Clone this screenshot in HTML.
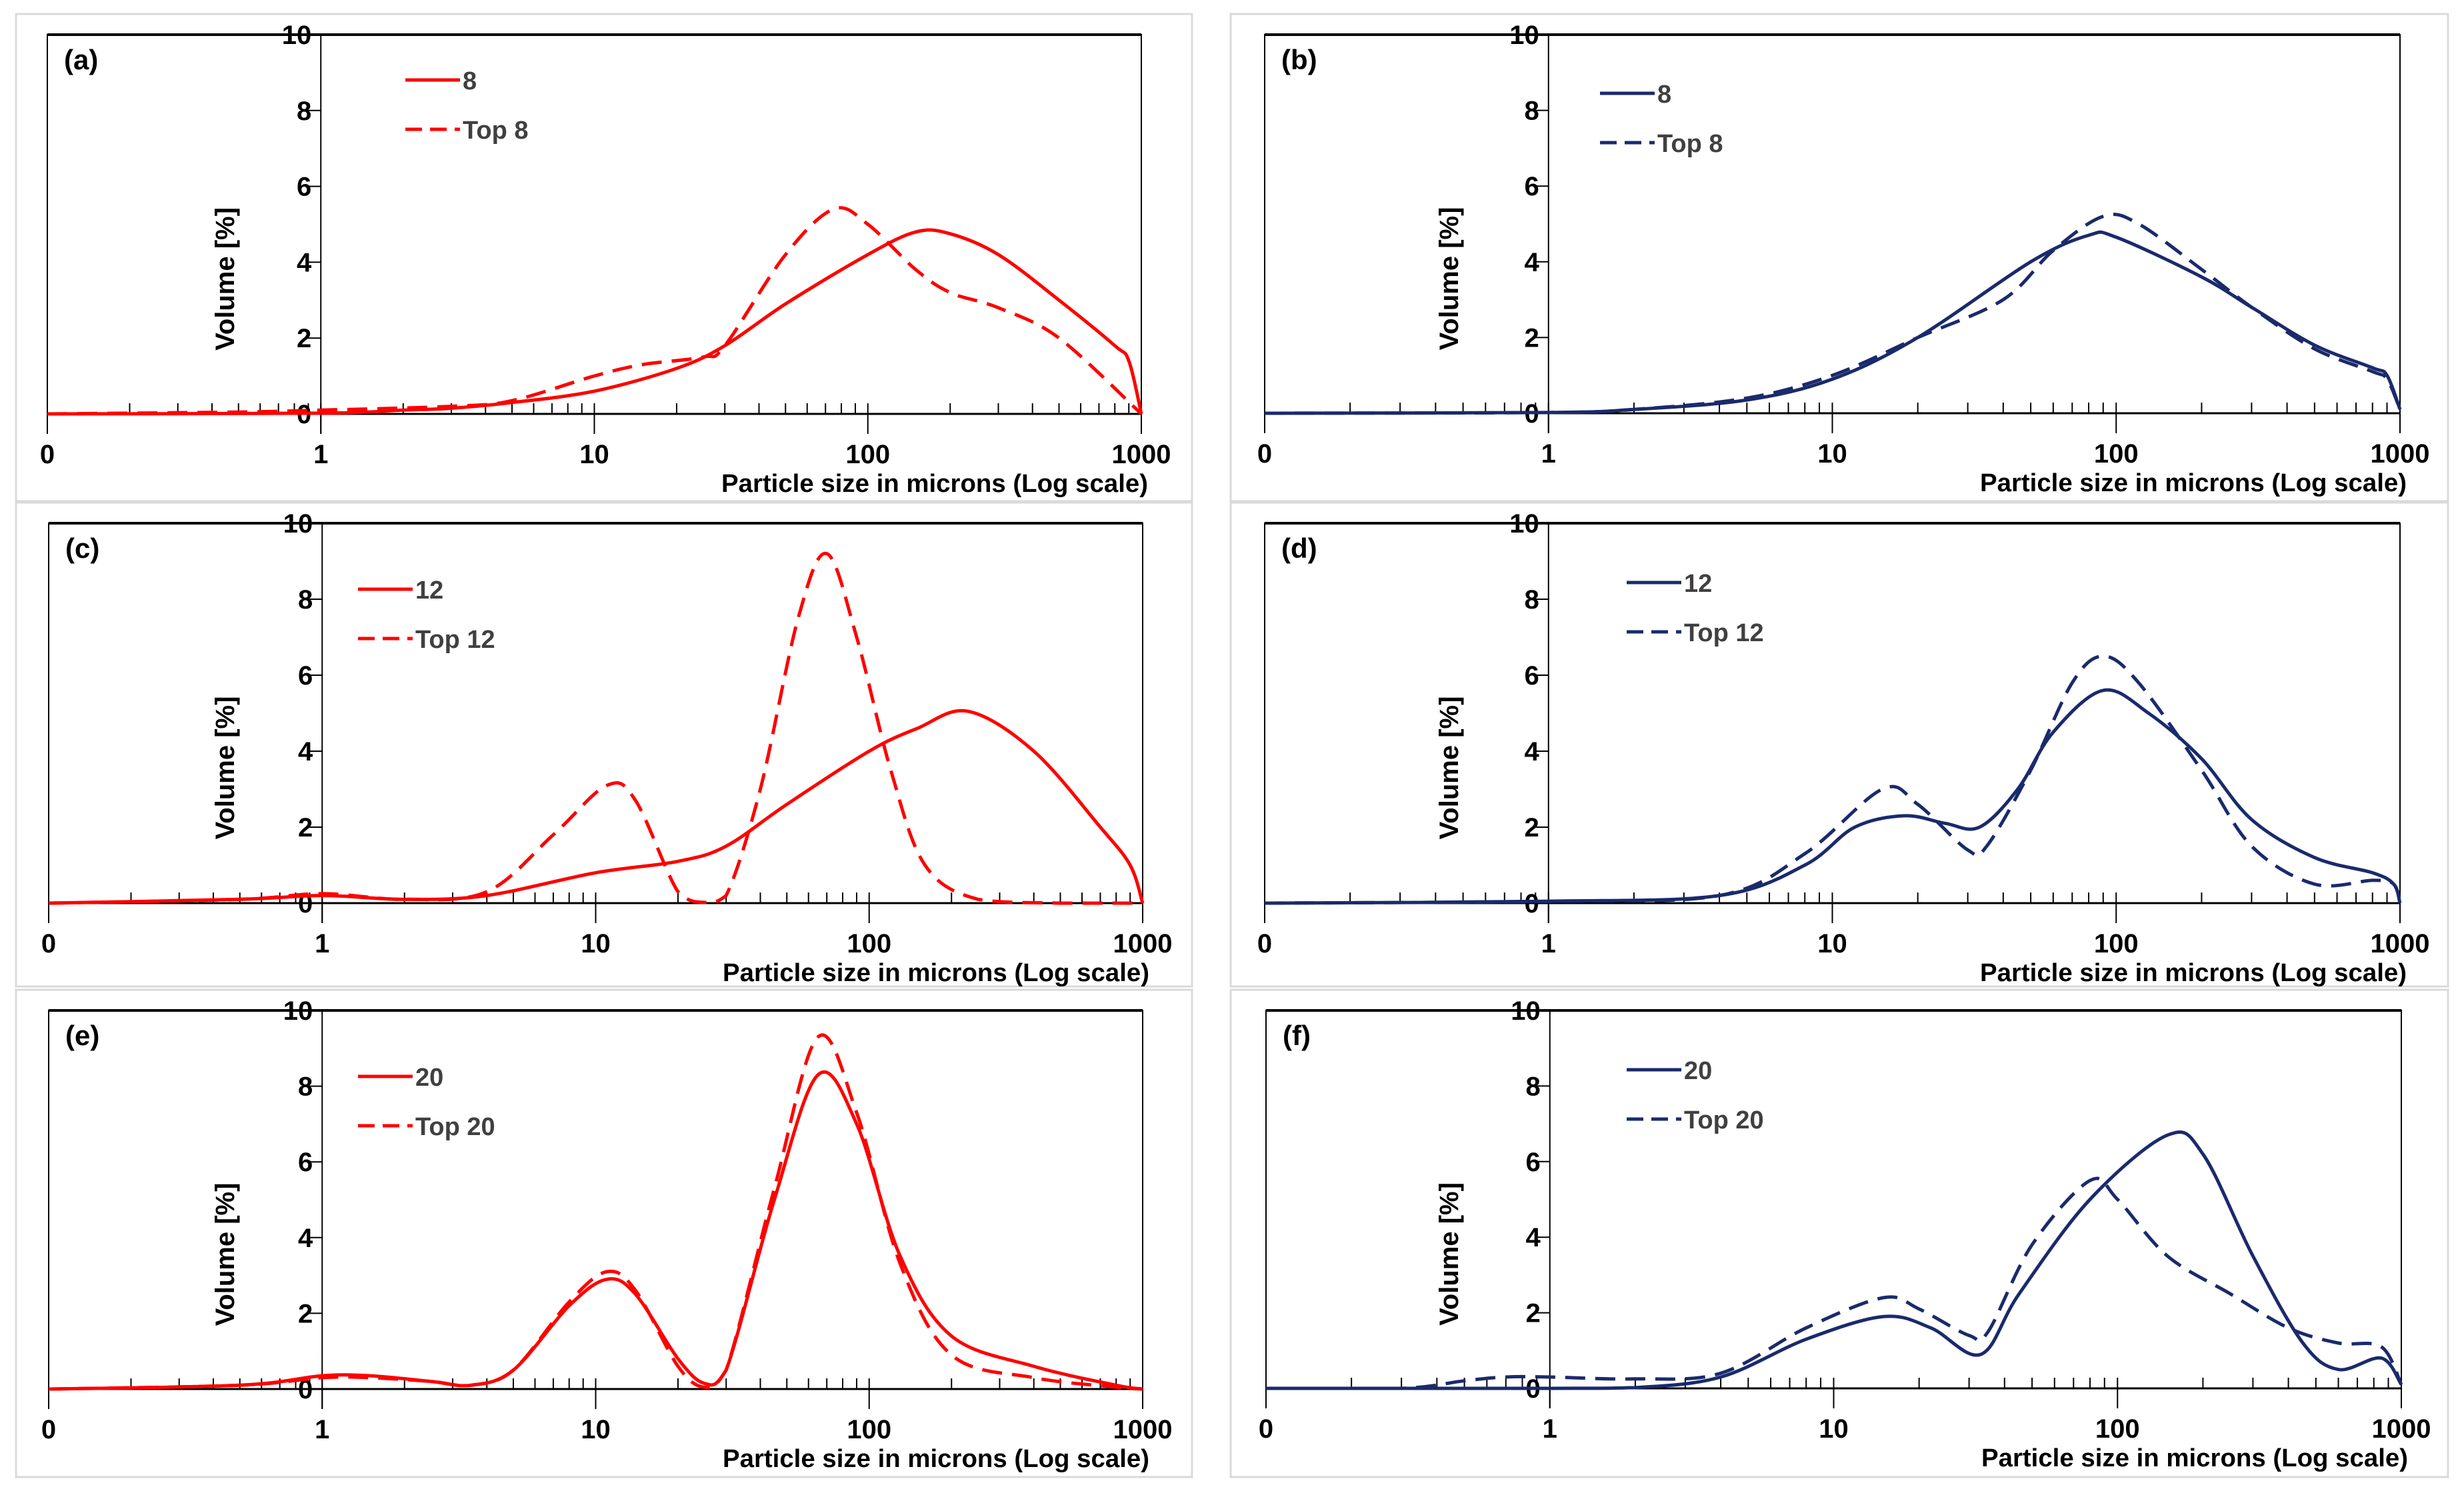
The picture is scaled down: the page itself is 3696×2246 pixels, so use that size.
<!DOCTYPE html>
<html><head><meta charset="utf-8"><style>
html,body{margin:0;padding:0;background:#fff;}
svg{display:block;font-family:"Liberation Sans",sans-serif;}
</style></head><body>
<svg id="chart" width="3696" height="2246" viewBox="0 0 3696 2246" xmlns="http://www.w3.org/2000/svg"></svg>
<script>
// ---- data (x in microns, y in volume %) ----
const aSolidX=[0.1,1,2,3,5,10,20,30,50,100,150,200,300,500,800,900,1000];
const aSolidY=[0,0.02,0.1,0.15,0.3,0.6,1.2,1.8,2.9,4.2,4.8,4.75,4.2,3.0,1.8,1.4,0];
const aDashX=[0.1,0.5,1,3,5,10,15,25,30,50,75,100,150,200,300,500,1000];
const aDashY=[0,0.05,0.1,0.2,0.35,1.0,1.3,1.5,1.8,4.2,5.4,5.0,3.8,3.2,2.8,2.0,0];
const bSolidX=[0.1,1,2,5,10,20,50,80,100,200,300,500,800,900,1000];
const bSolidY=[0,0.02,0.1,0.35,0.9,2.0,4.0,4.7,4.65,3.6,2.8,1.8,1.2,1.0,0.1];
const bDashX=[0.1,1,2,5,10,20,40,60,90,120,200,300,500,800,900,1000];
const bDashY=[0,0.02,0.1,0.4,1.0,2.0,3.0,4.3,5.2,5.0,3.8,2.8,1.7,1.1,0.9,0.1];
const cSolidX=[0.1,0.5,1,2,4,10,20,30,50,100,150,230,400,700,900,1000];
const cSolidY=[0,0.1,0.2,0.1,0.2,0.8,1.1,1.5,2.6,4.0,4.6,5.05,4.0,2.0,1.0,0];
const cDashX=[0.1,0.5,1,2,4,7,11,14,20,25,30,40,55,70,90,120,160,250,500,1000];
const cDashY=[0,0.1,0.25,0.1,0.3,1.8,3.1,2.7,0.3,0.02,0.2,3.0,7.5,9.2,7.0,3.5,1.0,0.1,0,0];
const dSolidX=[0.1,1,4,8,12,18,25,33,45,60,90,130,200,300,500,800,950,1000];
const dSolidY=[0,0.05,0.2,1.0,2.0,2.3,2.1,2.0,3.0,4.5,5.6,5.0,3.8,2.2,1.2,0.8,0.5,0];
const dDashX=[0.1,1,4,8,15,20,30,35,50,70,90,120,200,300,500,800,950,1000];
const dDashY=[0,0.05,0.2,1.3,3.0,2.6,1.4,1.5,3.5,5.8,6.5,5.8,3.5,1.5,0.5,0.6,0.5,0];
const eSolidX=[0.1,0.5,1,1.5,2.5,3.5,5,8,11,14,20,25,30,45,65,90,130,200,400,800,1000];
const eSolidY=[0,0.1,0.35,0.35,0.2,0.1,0.5,2.2,2.9,2.5,0.8,0.15,0.5,5.0,8.3,7.0,3.5,1.4,0.6,0.1,0];
const eDashX=[0.1,0.5,1,1.5,2.5,3.5,5,8,11,14,20,25,30,45,65,90,130,200,400,800,1000];
const eDashY=[0,0.1,0.3,0.3,0.2,0.1,0.5,2.3,3.1,2.6,0.6,0.05,0.5,5.3,9.3,7.3,3.3,0.9,0.3,0.05,0];
const fSolidX=[0.1,1,2,4,8,15,22,33,45,80,150,200,300,450,600,850,1000];
const fSolidY=[0,0,0.02,0.3,1.3,1.9,1.6,0.9,2.5,5.0,6.7,6.2,3.5,1.2,0.5,0.8,0.1];
const fDashX=[0.1,0.3,0.5,0.7,1,2,4,8,15,20,30,35,50,80,100,150,250,400,600,850,1000];
const fDashY=[0,0,0.2,0.3,0.3,0.25,0.4,1.6,2.4,2.1,1.4,1.5,3.8,5.5,5.0,3.5,2.5,1.6,1.2,1.1,0.1];
const xTickLabels=["0","1","10","100","1000"];
const yTickLabels=["0","2","4","6","8","10"];

const NS="http://www.w3.org/2000/svg";
const svg=document.getElementById('chart');
function el(tag,attrs,parent){const e=document.createElementNS(NS,tag);for(const k in attrs)e.setAttribute(k,attrs[k]);(parent||svg).appendChild(e);return e;}

const panels=[
 {id:'a',color:'#ff0000',fx:24,fy:21,fw:1764,fh:731,L:71,R:1712,T:52,B:621,yl:337,leg:[608,120],sx:aSolidX,sy:aSolidY,dx:aDashX,dy:aDashY,n1:'8',n2:'Top 8'},
 {id:'b',color:'#1a2a6c',fx:1846,fy:21,fw:1826,fh:731,L:1897,R:3600,T:52,B:620,yl:2173,leg:[2400,140],sx:bSolidX,sy:bSolidY,dx:bDashX,dy:bDashY,n1:'8',n2:'Top 8'},
 {id:'c',color:'#ff0000',fx:24,fy:754,fw:1764,fh:726,L:73,R:1714,T:785,B:1355,yl:337,leg:[537,884],sx:cSolidX,sy:cSolidY,dx:cDashX,dy:cDashY,n1:'12',n2:'Top 12'},
 {id:'d',color:'#1a2a6c',fx:1846,fy:754,fw:1826,fh:726,L:1897,R:3600,T:785,B:1355,yl:2173,leg:[2440,874],sx:dSolidX,sy:dSolidY,dx:dDashX,dy:dDashY,n1:'12',n2:'Top 12'},
 {id:'e',color:'#ff0000',fx:24,fy:1485,fw:1764,fh:731,L:73,R:1714,T:1516,B:2084,yl:337,leg:[537,1615],sx:eSolidX,sy:eSolidY,dx:eDashX,dy:eDashY,n1:'20',n2:'Top 20'},
 {id:'f',color:'#1a2a6c',fx:1846,fy:1485,fw:1826,fh:731,L:1899,R:3602,T:1516,B:2083,yl:2173,leg:[2440,1605],sx:fSolidX,sy:fSolidY,dx:fDashX,dy:fDashY,n1:'20',n2:'Top 20'}
];

function pathFrom(xs,ys,xf,yf){
 const P=xs.map((x,i)=>[xf(x),yf(ys[i])]);
 const yMax=yf(0);
 let d='M'+P[0][0].toFixed(1)+','+P[0][1].toFixed(1);
 for(let i=0;i<P.length-1;i++){
  const p0=P[i-1]||P[i],p1=P[i],p2=P[i+1],p3=P[i+2]||P[i+1];
  const c1=[p1[0]+(p2[0]-p0[0])/6,Math.min(yMax,p1[1]+(p2[1]-p0[1])/6)];
  const c2=[p2[0]-(p3[0]-p1[0])/6,Math.min(yMax,p2[1]-(p3[1]-p1[1])/6)];
  d+=' C'+c1.map(v=>v.toFixed(1)).join(',')+' '+c2.map(v=>v.toFixed(1)).join(',')+' '+p2[0].toFixed(1)+','+p2[1].toFixed(1);
 }
 return d;
}

panels.forEach(p=>{
 const g=el('g',{});
 
 
 const xf=v=>p.L+(Math.log10(v)+1)/4*(p.R-p.L);
 const yf=v=>p.B-v/10*(p.B-p.T);
 const frame=el('rect',{x:p.fx,y:p.fy,width:p.fw,height:p.fh,fill:'#fff',stroke:'#d9d9d9','stroke-width':3},g);
 
 
 const box=el('rect',{x:p.L,y:p.T,width:p.R-p.L,height:p.B-p.T,fill:'none',stroke:'#000','stroke-width':2},g);
 
 
 el('line',{x1:p.L,y1:p.T,x2:p.R,y2:p.T,stroke:'#000','stroke-width':4},g);
 const ax=xf(1);
 const yAxis=el('line',{x1:ax,y1:p.T,x2:ax,y2:p.B+30,stroke:'#000','stroke-width':2},g);
 
 
 yTickLabels.forEach((t,i)=>{
  const v=+t, y=yf(v);
  if(i>0&&i<5) el('line',{x1:ax-22,y1:y,x2:ax,y2:y,stroke:'#000','stroke-width':2},g);
  const tx=el('text',{x:ax-14,y:y+14,'text-anchor':'end','font-size':40,'font-weight':'bold',fill:'#000'},g);
  tx.textContent=t;
  
  
 });
 const xAxis=el('line',{x1:p.L,y1:p.B,x2:p.R,y2:p.B,stroke:'#000','stroke-width':3},g);
 
 
 for(let dec=-1;dec<3;dec++){
  for(let m=2;m<10;m++){const x=xf(m*Math.pow(10,dec));el('line',{x1:x,y1:p.B-16,x2:x,y2:p.B,stroke:'#000','stroke-width':2},g);}
 }
 xTickLabels.forEach((t,i)=>{
  const x=xf(Math.pow(10,i-1));
  el('line',{x1:x,y1:p.B-16,x2:x,y2:p.B+30,stroke:'#000','stroke-width':2},g);
  const tx=el('text',{x:x,y:p.B+74,'text-anchor':'middle','font-size':40,'font-weight':'bold',fill:'#000'},g);
  tx.textContent=t;
  
  
 });
 const xt=el('text',{x:p.R+10,y:p.B+117,'text-anchor':'end','font-size':38,'font-weight':'bold',fill:'#000',textLength:640,lengthAdjust:'spacingAndGlyphs'},g);
 xt.textContent='Particle size in microns (Log scale)';
 
 
 const ycy=(p.T+p.B)/2+82;
 const yt=el('text',{x:p.yl+14,y:ycy,transform:'rotate(-90 '+(p.yl+14)+' '+ycy+')','text-anchor':'middle','font-size':40,'font-weight':'bold',fill:'#000'},g);
 yt.textContent='Volume [%]';
 
 
 const lab=el('text',{x:p.L+25,y:p.T+52,'font-size':42,'font-weight':'bold',fill:'#000'},g);
 lab.textContent='('+p.id+')';
 
 
 const s1=el('path',{d:pathFrom(p.sx,p.sy,xf,yf),fill:'none',stroke:p.color,'stroke-width':5},g);
 
 
 const s2=el('path',{d:pathFrom(p.dx,p.dy,xf,yf),fill:'none',stroke:p.color,'stroke-width':5,'stroke-dasharray':'30 15'},g);
 
 
 const [lx,ly]=p.leg;
 [[p.n1,null],[p.n2,'25 12']].forEach((it,i)=>{
  const yy=ly+i*74;
  const ln=el('line',{x1:lx,y1:yy,x2:lx+82,y2:yy,stroke:p.color,'stroke-width':5},g);
  if(it[1]) ln.setAttribute('stroke-dasharray',it[1]);
  
  
  const tx=el('text',{x:lx+86,y:yy+14,'font-size':38,'font-weight':'bold',fill:'#404040'},g);
  tx.textContent=it[0];
  
  
 });
});
</script>
</body></html>
